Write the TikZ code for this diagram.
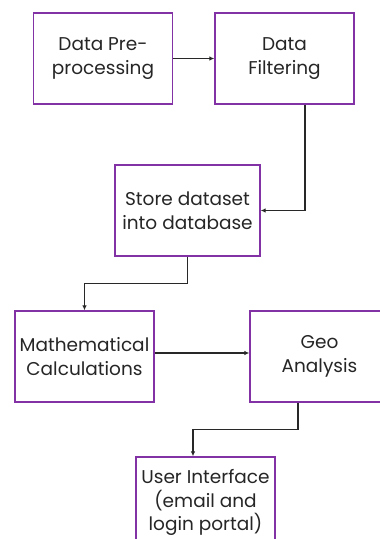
\documentclass[tikz,border=0pt]{standalone}
\usepackage{fontspec}
\setmainfont{Poppins}
\usetikzlibrary{arrows.meta}
\definecolor{boxpurple}{RGB}{130,50,165}
\definecolor{linegray}{RGB}{40,40,40}
\begin{document}
\begin{tikzpicture}[x=1pt,y=-1pt,
  stepbox/.style={draw=boxpurple,line width=1.3pt,fill=white,minimum width=139pt,minimum height=91pt,align=center,inner sep=0pt,font=\fontsize{18.5}{23.5}\selectfont,text=black!85},
  arr/.style={draw=linegray,line width=1.3pt,-{Latex[length=5pt,width=4.5pt]}}]
\useasboundingbox (0,0) rectangle (380,539);
\node[stepbox] (b1) at (103,58.5) {Data Pre-\\processing};
\node[stepbox] (b2) at (284.5,58.5) {Data\\Filtering};
\node[stepbox,minimum width=145pt] (b3) at (187.5,210.5) {Store dataset\\into database};
\node[stepbox] (b4) at (84.5,356.5) {Mathematical\\Calculations};
\node[stepbox] (b5) at (319.5,356.5) {Geo\\Analysis};
\node[stepbox] (b6) at (205.5,502.5) {User Interface\\(email and\\login portal)};
\draw[arr] (b1.east) -- (b2.west);
\draw[arr] ([xshift=20.5pt]b2.south) |- (b3.east);
\draw[arr] (b3.south) -- ++(0,27) -| (b4.north);
\draw[arr] ([yshift=3.5pt]b4.east) -- ([yshift=3.5pt]b5.west);
\draw[arr] ([xshift=-21.5pt]b5.south) -- ++(0,27) -| ([xshift=-12.5pt]b6.north);
\end{tikzpicture}
\end{document}
